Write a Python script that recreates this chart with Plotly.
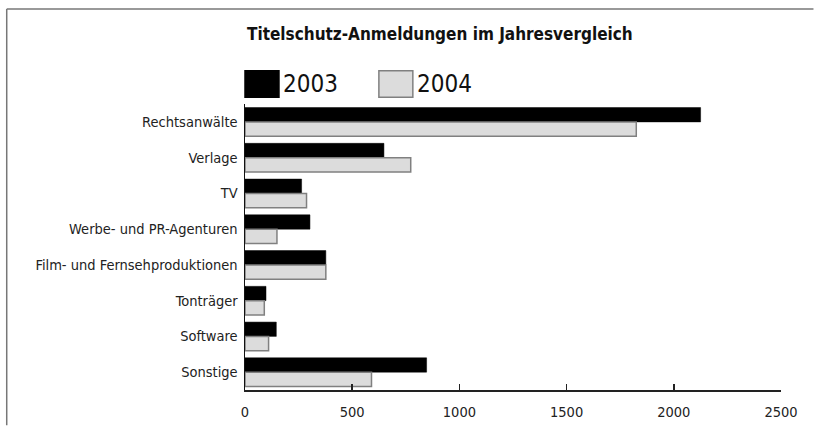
import plotly.graph_objects as go

categories = ["Rechtsanwälte", "Verlage", "TV", "Werbe- und PR-Agenturen",
              "Film- und Fernsehproduktionen", "Tonträger", "Software", "Sonstige"]
series_names = ["2003", "2004"]
values_2003 = [2125, 648, 264, 303, 377, 98, 146, 847]
values_2004 = [1825, 773, 287, 149, 377, 90, 110, 590]
x_ticks = [0, 500, 1000, 1500, 2000, 2500]
title_text = "Titelschutz-Anmeldungen im Jahresvergleich"

FONT = "DejaVu Sans Condensed, DejaVu Sans, sans-serif"
W, H = 814, 432
L, R, T, B = 245, 32.5, 104, 36
PW, PH = W - L - R, H - T - B


def px(x):
    return (x - L) / PW


def py(y):
    return 1 + (T - y) / PH


fig = go.Figure()
fig.add_trace(go.Bar(y=categories, x=values_2003, name=series_names[0], orientation="h",
                     marker=dict(color="#000000", line=dict(color="#000000", width=0.5)),
                     showlegend=False))
fig.add_trace(go.Bar(y=categories, x=values_2004, name=series_names[1], orientation="h",
                     marker=dict(color="#dcdcdc", line=dict(color="#808080", width=1.5)),
                     showlegend=False))

fig.update_layout(
    width=W, height=H,
    margin=dict(l=L, r=R, t=T, b=B, pad=0),
    paper_bgcolor="white", plot_bgcolor="white",
    barmode="group", bargap=0.2, bargroupgap=0,
    font=dict(family=FONT, color="#222222", size=14.5),
    xaxis=dict(range=[0, 2500], tickvals=x_ticks, ticktext=[str(v) for v in x_ticks],
               showgrid=False, zeroline=False, showline=True, linecolor="#222222", linewidth=1.5,
               ticks="inside", ticklen=6, tickwidth=1.5, tickcolor="#222222",
               tickfont=dict(size=14.5, family=FONT, color="#222222"), ticklabelstandoff=8,
               fixedrange=True),
    yaxis=dict(autorange="reversed", showgrid=False, zeroline=False, showline=True,
               linecolor="#111111", linewidth=1.5, ticks="", ticklabelstandoff=3,
               tickfont=dict(size=14.5, family=FONT, color="#222222"), fixedrange=True),
)

# title
fig.add_annotation(text="<b>" + title_text + "</b>", xref="paper", yref="paper",
                   x=px(245), y=py(33), xanchor="left", yanchor="middle", showarrow=False,
                   font=dict(size=17, family=FONT, color="#111111"))

# legend (manual)
legend_items = [(series_names[0], "#000000", "#000000", 245, 279),
                (series_names[1], "#dcdcdc", "#808080", 379, 413)]
for name, fill, line, x0, x1 in legend_items:
    fig.add_shape(type="rect", xref="paper", yref="paper",
                  x0=px(x0), x1=px(x1), y0=py(97), y1=py(70),
                  fillcolor=fill, line=dict(color=line, width=1.5))
    fig.add_annotation(text=name, xref="paper", yref="paper",
                       x=px(x1 + 2), y=py(83.5), xanchor="left", yanchor="middle",
                       showarrow=False, font=dict(size=24, family=FONT, color="#111111"))

# outer frame (top and left)
fig.add_shape(type="line", xref="paper", yref="paper",
              x0=px(6.5), x1=px(W), y0=py(7), y1=py(7),
              line=dict(color="#777777", width=1.5))
fig.add_shape(type="line", xref="paper", yref="paper",
              x0=px(6.5), x1=px(6.5), y0=py(7), y1=py(H),
              line=dict(color="#777777", width=1.5))

fig.write_html("out.html", config={"displayModeBar": False, "staticPlot": True},
               post_script="document.body.style.margin='0';document.body.style.overflow='hidden';")
